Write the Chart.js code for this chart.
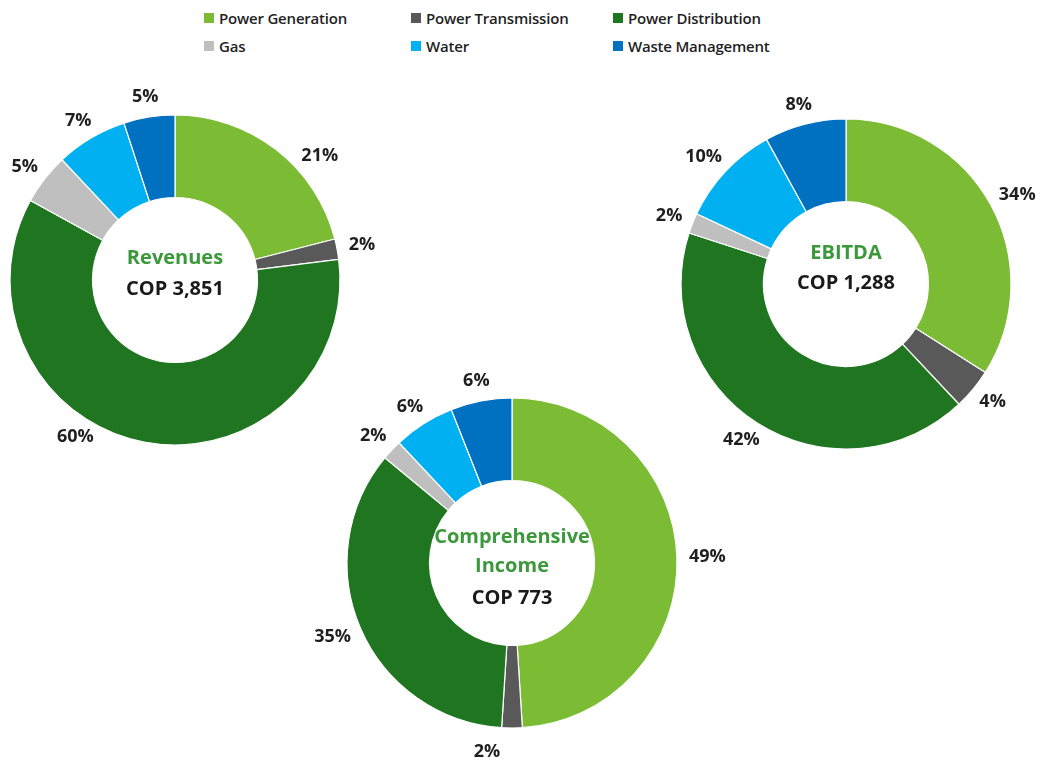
<!DOCTYPE html>
<html><head><meta charset="utf-8">
<script src="https://cdn.jsdelivr.net/npm/chart.js@4.4.1/dist/chart.umd.min.js"></script>
<style>
html,body{margin:0;padding:0;background:#fff;width:1053px;height:762px;overflow:hidden;position:relative;font-family:"Open Sans",sans-serif;}
canvas{position:absolute;}
.li{position:absolute;display:flex;align-items:center;font-size:15px;font-weight:600;color:#1f1f1f;white-space:nowrap;letter-spacing:-0.2px;}
.sw{width:10px;height:10px;margin-right:5px;}
</style></head><body>
<div id="legend"></div>
<canvas id="c1" width="440" height="440" style="left:-45px;top:60px"></canvas>
<canvas id="c2" width="440" height="440" style="left:626px;top:64px"></canvas>
<canvas id="c3" width="440" height="440" style="left:292px;top:343px"></canvas>
<script>
// ---- data ----
const segments = ['Power Generation','Power Transmission','Power Distribution','Gas','Water','Waste Management'];
const revenuesShare = [21, 2, 60, 5, 7, 5];
const ebitdaShare   = [34, 4, 42, 2, 10, 8];
const incomeShare   = [49, 2, 35, 2, 6, 6];
const revenuesTitle = ['Revenues', 'COP 3,851'];
const ebitdaTitle   = ['EBITDA', 'COP 1,288'];
const incomeTitle   = ['Comprehensive', 'Income', 'COP 773'];

// ---- styles ----
const segColors = ['#7cbc34','#595959','#1f7520','#bfbfbf','#00b0f0','#0070c0'];
const titleGreen = '#3b983b';
const legendPos = [[204,19],[411,19],[613,19],[204,47],[411,47],[613,47]];

// legend (HTML text)
const lg = document.getElementById('legend');
segments.forEach((s,i)=>{
  const d=document.createElement('div'); d.className='li';
  d.style.left=legendPos[i][0]+'px'; d.style.top=(legendPos[i][1]-11)+'px';
  d.innerHTML='<span class="sw" style="background:'+segColors[i]+'"></span><span></span>';
  d.lastChild.textContent=s; lg.appendChild(d);
});

const labelPlugin = {
  id:'sliceLabels',
  afterDatasetsDraw(chart, args, opts){
    const ctx=chart.ctx, meta=chart.getDatasetMeta(0), ds=chart.data.datasets[0];
    ctx.save();
    ctx.textAlign='center'; ctx.textBaseline='middle';
    ctx.font='bold 18px "Open Sans"'; ctx.fillStyle='#1f1f1f';
    let cx=0, cy=0;
    meta.data.forEach((arc,i)=>{
      const p=arc.getProps(['x','y','startAngle','endAngle','outerRadius'],true);
      cx=p.x; cy=p.y;
      const mid=(p.startAngle+p.endAngle)/2, dx=Math.cos(mid), dy=Math.sin(mid);
      const txt=ds.data[i]+'%', hw=ctx.measureText(txt).width/2, hh=8;
      const r=p.outerRadius+opts.pad;
      const n=(opts.nudge&&opts.nudge[i])||[0,0];
      ctx.fillText(txt, cx+dx*r+dx*hw+n[0], cy+dy*r+dy*hh+n[1]);
    });
    opts.center.forEach((t,i)=>{
      const last = i===opts.center.length-1;
      ctx.font='bold 20px "Open Sans"';
      ctx.fillStyle = last ? '#1a1a1a' : titleGreen;
      ctx.fillText(t, cx, cy+opts.dy[i]);
    });
    ctx.restore();
  }
};

function make(id, values, title, dy, nudge){
  new Chart(document.getElementById(id), {
    type:'doughnut',
    data:{labels:segments, datasets:[{data:values, backgroundColor:segColors, borderColor:'#ffffff', borderWidth:1.2, radius:165, cutout:'50%'}]},
    options:{
      responsive:false, animation:false, rotation:0,
      layout:{padding:0},
      events:[],
      plugins:{legend:{display:false}, tooltip:{enabled:false},
        sliceLabels:{pad:12, center:title, dy:dy, nudge:nudge}}
    },
    plugins:[labelPlugin]
  });
}
make('c1', revenuesShare, revenuesTitle, [-22, 9], [[25,22],null,[-63,-25]]);
make('c2', ebitdaShare, ebitdaTitle, [-31, -1], null);
make('c3', incomeShare, incomeTitle, [-26, 3, 35], [null,[-25,4]]);
</script>
</body></html>
